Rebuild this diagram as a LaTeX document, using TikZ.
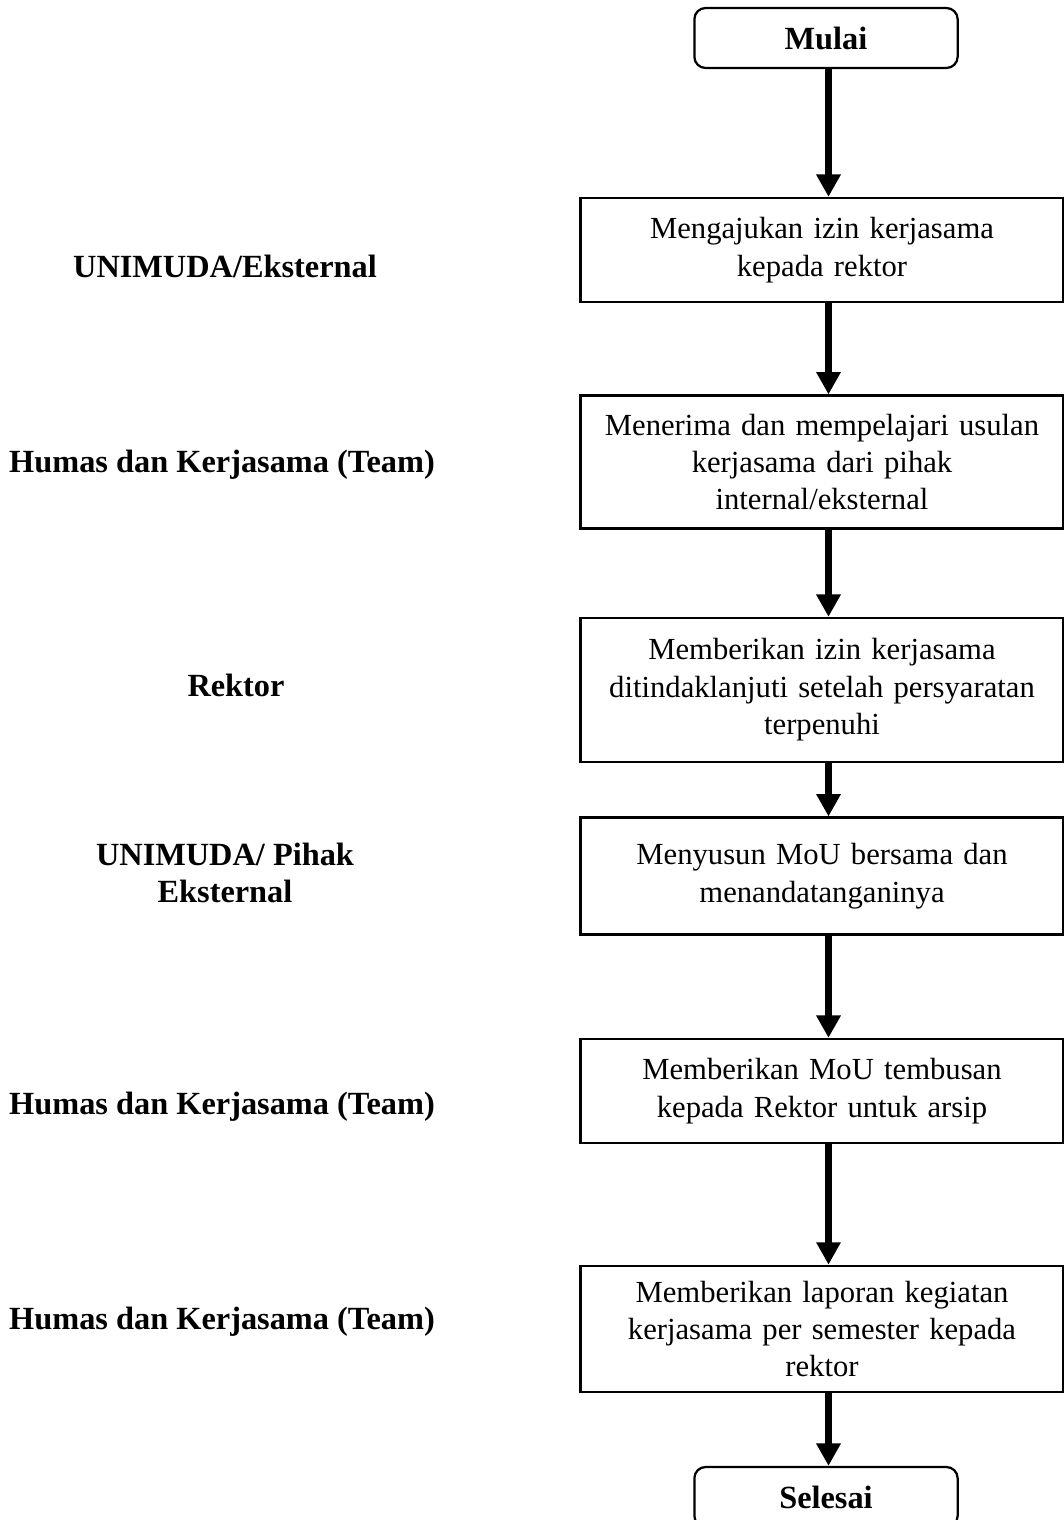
\documentclass[tikz,border=0pt]{standalone}
\usepackage{fontspec}
\setmainfont{Liberation Serif}
\usetikzlibrary{arrows.meta}

\begin{document}
\begin{tikzpicture}[
        % one unit is one pixel of the reference, y grows downwards
        x=0.0125cm,
        y=-0.0125cm,
        %
        every node/.style={font=\fontsize{10.9}{13.3}\selectfont},
        terminal/.style={draw, line width=0.8pt, rounded corners=4pt,
            minimum width=3.29cm, minimum height=0.75cm,
            font=\fontsize{11.5}{13.3}\selectfont\bfseries},
        process/.style={draw, line width=0.8pt,
            minimum width=6cm, text width=5.8cm, align=center},
        role/.style={align=center, font=\fontsize{11.5}{13.3}\selectfont\bfseries},
        flow/.style={line width=2.5pt, -{Triangle[width=0.29cm,length=0.28cm]}}
    ]

        % Fix the page to the reference size
        \useasboundingbox (0,0) rectangle (1064,1520);

        % x of the flow column, of the arrows and of the role column
        \def\colx{822}
        \def\arrx{828.5}
        \def\rolex{225}

        % Start and end
        \node[terminal] (mulai) at (826,38) {Mulai};
        \node[terminal] (selesai) at (826,1497) {Selesai};

        % Process steps
        \node[process, minimum height=1.3cm] (ajukan) at (\colx,250)
            {Mengajukan izin kerjasama\\kepada rektor};
        \node[process, minimum height=1.66cm] (terima) at (\colx,462)
            {Menerima dan mempelajari usulan\\kerjasama dari pihak\\internal/eksternal};
        \node[process, minimum height=1.8cm] (izin) at (\colx,690)
            {Memberikan izin kerjasama\\ditindaklanjuti setelah persyaratan\\terpenuhi};
        \node[process, minimum height=1.46cm] (susun) at (\colx,876)
            {Menyusun MoU bersama dan\\menandatanganinya};
        \node[process, minimum height=1.3cm] (tembusan) at (\colx,1091)
            {Memberikan MoU tembusan\\kepada Rektor untuk arsip};
        \node[process, minimum height=1.58cm] (laporan) at (\colx,1329)
            {Memberikan laporan kegiatan\\kerjasama per semester kepada\\rektor};

        % Who does each step
        \node[role] (r1) at (\rolex,266) {UNIMUDA/Eksternal};
        \node[role] (r2) at (222,465) {Humas dan Kerjasama (Team)};
        \node[role] (r3) at (236,685) {Rektor};
        \node[role] (r4) at (\rolex,873) {UNIMUDA/ Pihak\\Eksternal};
        \node[role] (r5) at (222,1107) {Humas dan Kerjasama (Team)};
        \node[role] (r6) at (222,1322) {Humas dan Kerjasama (Team)};

        % Arrows
        \draw[flow] (mulai.south -| \arrx,0) -- (ajukan.north -| \arrx,0);
        \draw[flow] (ajukan.south -| \arrx,0) -- (terima.north -| \arrx,0);
        \draw[flow] (terima.south -| \arrx,0) -- (izin.north -| \arrx,0);
        \draw[flow] (izin.south -| \arrx,0) -- (susun.north -| \arrx,0);
        \draw[flow] (susun.south -| \arrx,0) -- (tembusan.north -| \arrx,0);
        \draw[flow] (tembusan.south -| \arrx,0) -- (laporan.north -| \arrx,0);
        \draw[flow] (laporan.south -| \arrx,0) -- (selesai.north -| \arrx,0);

    \end{tikzpicture}
\end{document}
